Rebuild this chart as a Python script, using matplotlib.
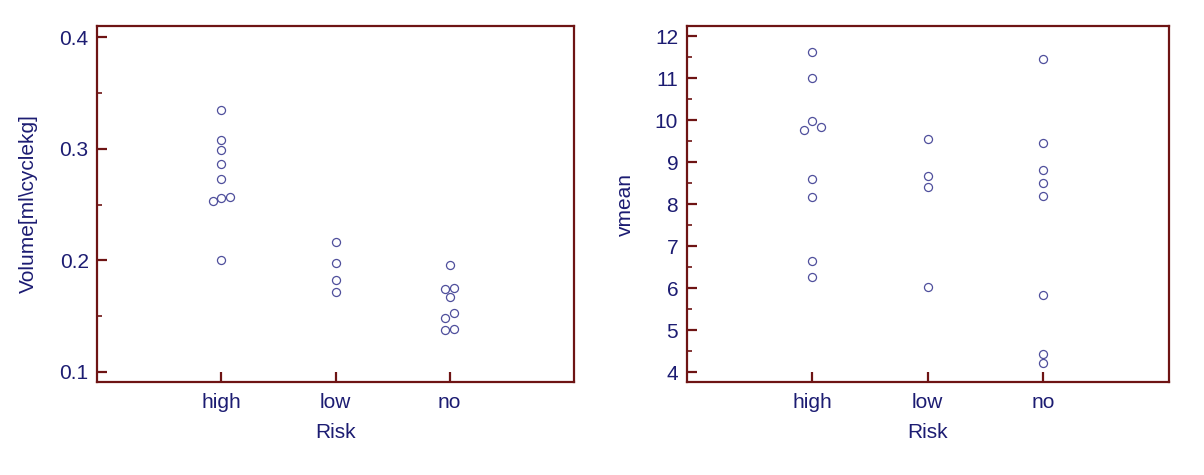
import matplotlib
matplotlib.use('Agg')
import matplotlib.pyplot as plt
from matplotlib.ticker import MultipleLocator, FormatStrFormatter
import numpy as np

plt.rcParams['font.family'] = ['Liberation Sans', 'DejaVu Sans']

# categories on the x axis
risk = ['high', 'low', 'no']

# Volume[ml\cyclekg] per risk group
volume_high = [0.335, 0.308, 0.299, 0.286, 0.273, 0.2556, 0.257, 0.2535, 0.200]
volume_low = [0.2167, 0.1976, 0.182, 0.1715]
volume_no = [0.196, 0.1748, 0.1739, 0.167, 0.1527, 0.1484, 0.1385, 0.1374]

# vmean per risk group
vmean_high = [11.62, 11.01, 9.995, 9.844, 9.78, 8.60, 8.175, 6.66, 6.283]
vmean_low = [9.564, 8.686, 8.422, 6.027]
vmean_no = [11.456, 9.452, 8.814, 8.51, 8.206, 5.851, 4.446, 4.23]

text_col = '#1c1c72'
spine_col = '#6e1414'
mark_col = '#4f4f9c'
fs = 15


def dot_column(ax, xpos, vals, gap=7.0, step=8.5):
    # spread points that would overlap side by side (in pixels),
    # filling slots centre first, then right, then left
    vals = np.asarray(vals, dtype=float)
    pix = ax.transData.transform(np.column_stack([np.full(len(vals), xpos), vals]))
    order = np.argsort(pix[:, 1], kind='stable')
    groups = [[order[0]]]
    for a, b in zip(order[:-1], order[1:]):
        if pix[b, 1] - pix[a, 1] < gap:
            groups[-1].append(b)
        else:
            groups.append([b])
    for g in groups:
        g = sorted(g)  # keep data order inside the group
        n = len(g)
        if n % 2:
            slots = [0] + [s * k for k in range(1, n // 2 + 1) for s in (1, -1)]
        else:
            slots = [s * (k - 0.5) for k in range(1, n // 2 + 1) for s in (1, -1)]
        for idx, sl in zip(g, slots):
            pix[idx, 0] += sl * step
    xy = ax.transData.inverted().transform(pix)
    ax.plot(xy[:, 0], xy[:, 1], 'o', ls='none', ms=5.8, mfc='none',
            mec=mark_col, mew=0.9)


def style_axes(ax, ylim, major, minor):
    ax.set_xlim(-0.09, 4.09)
    ax.set_ylim(*ylim)
    ax.set_xticks([1, 2, 3])
    ax.set_xticklabels(risk)
    ax.yaxis.set_major_locator(MultipleLocator(major))
    ax.yaxis.set_minor_locator(MultipleLocator(minor))
    for s in ax.spines.values():
        s.set_color(spine_col)
        s.set_linewidth(1.6)
    ax.tick_params(axis='both', which='major', direction='in', length=7,
                   width=1.6, color=spine_col, labelcolor=text_col,
                   labelsize=fs, pad=6)
    ax.tick_params(axis='x', which='major', pad=8)
    ax.tick_params(axis='y', which='minor', direction='in', length=3.5,
                   width=1.2, color=spine_col)
    ax.tick_params(axis='x', which='minor', bottom=False)
    ax.set_xlabel('Risk', color=text_col, fontsize=fs, labelpad=8)


fig = plt.figure(figsize=(12.04, 4.75), dpi=100)
ax1 = fig.add_axes([97 / 1204, 93 / 475, 477 / 1204, 356 / 475])
ax2 = fig.add_axes([686.5 / 1204, 93 / 475, 482.5 / 1204, 356 / 475])

style_axes(ax1, (0.091, 0.41), 0.1, 0.05)
ax1.yaxis.set_major_formatter(FormatStrFormatter('%.1f'))
ax1.set_ylabel('Volume[ml\\cyclekg]', color=text_col, fontsize=fs)
ax1.yaxis.set_label_coords(-0.124, 0.5)

style_axes(ax2, (3.77, 12.25), 1, 0.5)
ax2.set_ylabel('vmean', color=text_col, fontsize=fs)
ax2.yaxis.set_label_coords(-0.107, 0.5)

for ax, groups in ((ax1, (volume_high, volume_low, volume_no)),
                   (ax2, (vmean_high, vmean_low, vmean_no))):
    for i, vals in enumerate(groups):
        dot_column(ax, i + 1, vals)

fig.savefig('out.png', dpi=100)
